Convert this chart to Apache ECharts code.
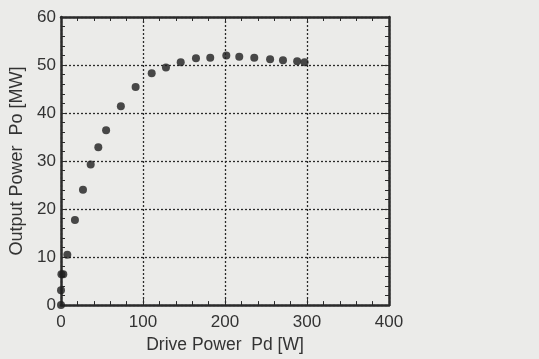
<!DOCTYPE html>
<html>
<head>
<meta charset="utf-8">
<script src="https://cdn.jsdelivr.net/npm/echarts@6/dist/echarts.min.js"></script>
<style>
  html, body { margin: 0; padding: 0; background: #ebebe9; }
  #chart { width: 539px; height: 359px; }
</style>
</head>
<body>
<div id="chart"></div>
<script>
// Drive power Pd [W] vs output power Po [MW]
const drivePower = [0, 0, 0.5, 2.8, 7.7, 17, 26.8, 36.2, 45.5, 55, 73, 91, 110.6, 128, 146, 164.6, 182, 201.6, 217.4, 235.7, 255, 270.7, 288, 297];
const outputPower = [0, 3.1, 6.4, 6.4, 10.5, 17.7, 24.0, 29.3, 32.9, 36.4, 41.4, 45.4, 48.3, 49.5, 50.6, 51.4, 51.5, 52.0, 51.7, 51.5, 51.2, 51.0, 50.8, 50.6];

const xTicks = [0, 100, 200, 300, 400];
const yTicks = [0, 10, 20, 30, 40, 50, 60];

const ink = "#2a2a2a";
const text = "#333333";
const font = "Liberation Sans";

const frameAxis = (extra) => ({
  axisLine: { show: true, onZero: false, lineStyle: { color: ink, width: 2.5 } },
  axisTick: { show: true, inside: true, length: 6, lineStyle: { color: ink, width: 1 } },
  minorTick: { show: true, splitNumber: 5, length: 4, lineStyle: { color: ink, width: 1 } },
  ...extra,
});

const chart = echarts.init(document.getElementById("chart"), null, { renderer: "canvas" });
chart.setOption({
  backgroundColor: "#ebebe9",
  animation: false,
  textStyle: { fontFamily: font },
  grid: { left: 61, right: 150, top: 17, bottom: 50 },
  xAxis: [
    frameAxis({
      type: "value", min: xTicks[0], max: xTicks[xTicks.length - 1], interval: 100,
      name: "Drive Power  Pd [W]", nameLocation: "middle", nameGap: 29,
      nameTextStyle: { color: text, fontSize: 17.5, fontFamily: font },
      axisLabel: { color: text, fontSize: 17, margin: 9, fontFamily: font },
      splitLine: { show: true, lineStyle: { color: ink, type: [2, 2], width: 1.3 } },
    }),
    frameAxis({
      type: "value", position: "top", min: xTicks[0], max: xTicks[xTicks.length - 1], interval: 100,
      axisLabel: { show: false }, splitLine: { show: false },
    }),
  ],
  yAxis: [
    frameAxis({
      type: "value", min: yTicks[0], max: yTicks[yTicks.length - 1], interval: 10,
      name: "Output Power  Po [MW]", nameLocation: "middle", nameGap: 34,
      nameTextStyle: { color: text, fontSize: 18, fontFamily: font },
      axisLabel: { color: text, fontSize: 17, margin: 5, padding: [0, 0, 7, 0], fontFamily: font },
      splitLine: { show: true, lineStyle: { color: ink, type: [2, 2], width: 1.3 } },
    }),
    frameAxis({
      type: "value", position: "right", min: yTicks[0], max: yTicks[yTicks.length - 1], interval: 10,
      axisLabel: { show: false }, splitLine: { show: false },
    }),
  ],
  series: [{
    type: "scatter",
    symbolSize: 8,
    itemStyle: { color: "#1e1e1e" },
    data: drivePower.map((x, i) => [x, outputPower[i]]),
  }],
});
</script>
</body>
</html>
